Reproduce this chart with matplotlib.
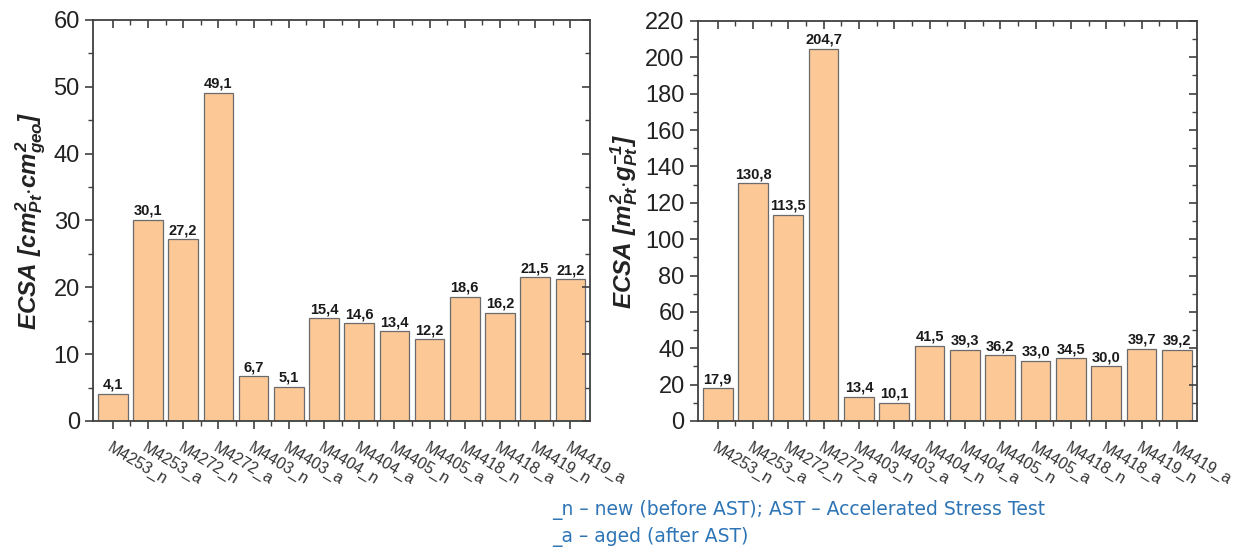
import numpy as np
import matplotlib
matplotlib.use('Agg')
import matplotlib.pyplot as plt
from matplotlib.ticker import MultipleLocator

plt.rcParams['font.family'] = ['Liberation Sans', 'DejaVu Sans']
plt.rcParams['mathtext.fontset'] = 'custom'
plt.rcParams['mathtext.rm'] = 'Liberation Sans:italic:bold'
plt.rcParams['mathtext.it'] = 'Liberation Sans:italic:bold'
plt.rcParams['mathtext.bf'] = 'Liberation Sans:italic:bold'

samples = ['M4253_n', 'M4253_a', 'M4272_n', 'M4272_a', 'M4403_n', 'M4403_a',
           'M4404_n', 'M4404_a', 'M4405_n', 'M4405_a', 'M4418_n', 'M4418_a',
           'M4419_n', 'M4419_a']
ecsa_geo = [4.1, 30.1, 27.2, 49.1, 6.7, 5.1, 15.4, 14.6, 13.4, 12.2, 18.6, 16.2, 21.5, 21.2]
ecsa_mass = [17.9, 130.8, 113.5, 204.7, 13.4, 10.1, 41.5, 39.3, 36.2, 33.0, 34.5, 30.0, 39.7, 39.2]

bar_color = '#FBC896'
edge_color = '#6b6b6b'
axis_color = '#404040'

fig = plt.figure(figsize=(12.44, 5.51), dpi=100)
ax1 = fig.add_axes([0.0748, 0.236, 0.3995, 0.728])
ax2 = fig.add_axes([0.561, 0.236, 0.401, 0.726])


def draw_panel(ax, vals, ymax, major, minor, ylabel):
    x = np.arange(len(samples))
    bars = ax.bar(x, vals, width=0.84, color=bar_color, edgecolor=edge_color, linewidth=0.9)
    for b, v in zip(bars, vals):
        ax.text(b.get_x() + b.get_width() / 2, v + ymax * 0.005,
                f'{v:.1f}'.replace('.', ','), ha='center', va='bottom',
                fontsize=10.5, fontweight='bold', color='#1a1a1a')
    ax.set_xlim(-0.56, len(samples) - 0.44)
    ax.set_ylim(0, ymax)
    ax.yaxis.set_major_locator(MultipleLocator(major))
    ax.yaxis.set_minor_locator(MultipleLocator(minor))
    ax.set_xticks(x)
    ax.set_xticks(x[:-1] + 0.5, minor=True)
    ax.set_xticklabels(samples, rotation=-31, ha='left', rotation_mode='anchor',
                       fontsize=11.5, color='#333333')
    ax.tick_params(axis='y', which='both', direction='out', labelsize=17,
                   colors=axis_color, labelcolor='#222222', right=True)
    ax.tick_params(axis='y', which='major', length=6, width=1.2)
    ax.tick_params(axis='y', which='minor', length=3.5, width=1.0)
    ax.tick_params(axis='x', which='both', direction='out', colors=axis_color,
                   top=True, labelcolor='#333333')
    ax.tick_params(axis='x', which='major', length=6, width=1.2, pad=8)
    ax.tick_params(axis='x', which='minor', length=3.5, width=1.0)
    # ticks on top and right point into the frame
    for t in ax.xaxis.get_major_ticks() + ax.xaxis.get_minor_ticks():
        t.tick2line.set_marker(3)
    for t in ax.yaxis.get_major_ticks() + ax.yaxis.get_minor_ticks():
        t.tick2line.set_marker(0)
    for s in ax.spines.values():
        s.set_color(axis_color)
        s.set_linewidth(1.3)
    ax.set_ylabel(ylabel, fontsize=17.5, color='#222222', labelpad=4)


draw_panel(ax1, ecsa_geo, 60, 10, 5,
           r'$ECSA\ [cm^2_{Pt}{\cdot}cm^2_{geo}]$')
draw_panel(ax2, ecsa_mass, 220, 20, 10,
           r'$ECSA\ [m^2_{Pt}{\cdot}g^{-1}_{Pt}]$')

note_color = '#2E75B6'
fig.text(0.444, 0.075, '_n \u2013 new (before AST); AST \u2013 Accelerated Stress Test',
         family='DejaVu Sans', fontsize=13.5, color=note_color, va='center')
fig.text(0.444, 0.026, '_a \u2013 aged (after AST)',
         family='DejaVu Sans', fontsize=13.5, color=note_color, va='center')

fig.savefig('out.png', dpi=100)
